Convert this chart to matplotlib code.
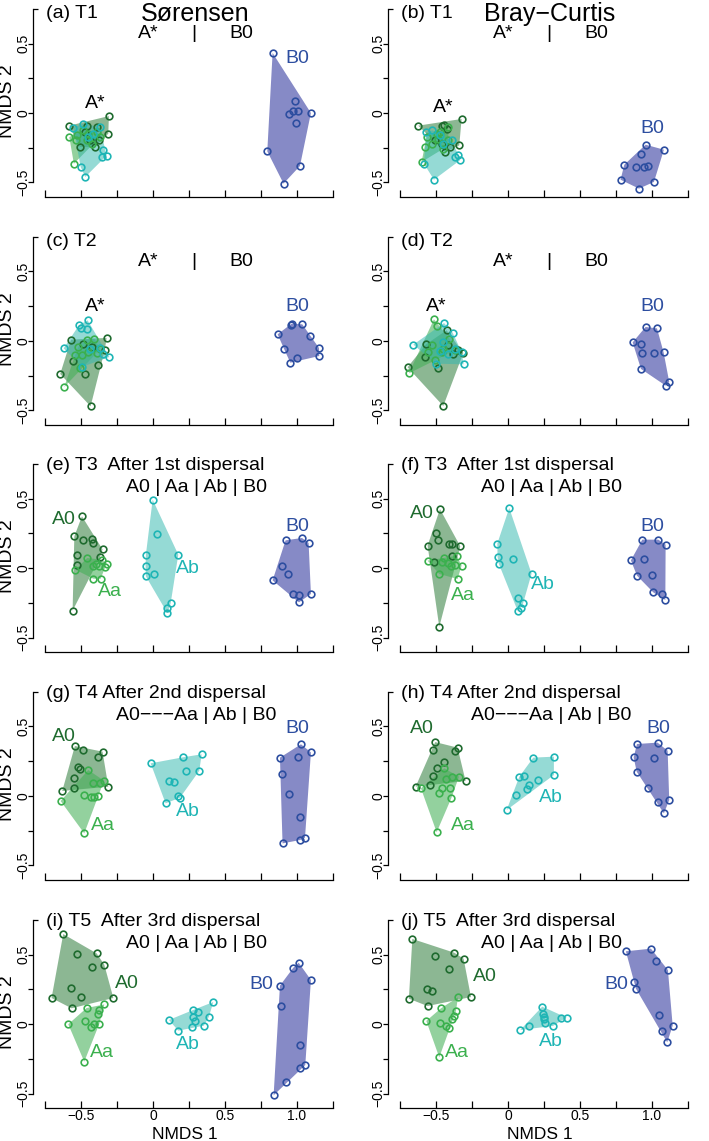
"""NMDS ordinations of the metacommunity treatments (Sorensen vs Bray-Curtis)"""
import numpy as np
import matplotlib
matplotlib.use('Agg')
import matplotlib.pyplot as plt
from matplotlib.patches import Polygon
from matplotlib.ticker import FixedLocator, FixedFormatter

plt.rcParams['font.family'] = ['Liberation Sans', 'DejaVu Sans']

# group colours: (points, hull fill)
colours = {'A0': ('#1f6b2f', '#3a8446'),
           'Aa': ('#3bb04e', '#45b058'),
           'Ab': ('#1fb5b5', '#34b8b0'),
           'B0': ('#2d4ea0', '#3c42a4')}
fill_alpha = {'A0': 0.58, 'Aa': 0.58, 'Ab': 0.52, 'B0': 0.62}

# NMDS site scores, one dict per panel
sor_T1 = {
    'A0': [(-0.581, -0.091), (-0.456, -0.096), (-0.391, -0.103), (-0.306, -0.022), (-0.310, -0.149),
           (-0.373, -0.197), (-0.437, -0.192), (-0.403, -0.245), (-0.472, -0.137), (-0.507, -0.245)],
    'Aa': [(-0.581, -0.173), (-0.535, -0.197), (-0.549, -0.365), (-0.488, -0.125), (-0.449, -0.149),
           (-0.426, -0.221), (-0.391, -0.137), (-0.368, -0.173), (-0.461, -0.197), (-0.530, -0.161)],
    'Ab': [(-0.484, -0.077), (-0.502, -0.388), (-0.470, -0.460), (-0.357, -0.317), (-0.322, -0.307),
           (-0.368, -0.101), (-0.350, -0.269), (-0.449, -0.173), (-0.414, -0.149), (-0.553, -0.105)],
    'B0': [(0.831, 0.432), (0.986, 0.084), (0.970, 0.012), (1.005, 0.012), (0.947, -0.010),
           (1.097, 0.0), (0.993, -0.070), (0.794, -0.276), (1.021, -0.381), (0.907, -0.508)],
}
bc_T1 = {
    'A0': [(-0.623, -0.091), (-0.322, -0.043), (-0.456, -0.096), (-0.442, -0.089), (-0.338, -0.233),
           (-0.437, -0.281), (-0.461, -0.221), (-0.403, -0.245), (-0.507, -0.197), (-0.426, -0.113)],
    'Aa': [(-0.565, -0.173), (-0.576, -0.245), (-0.600, -0.353), (-0.472, -0.137), (-0.414, -0.197),
           (-0.484, -0.185), (-0.449, -0.257), (-0.495, -0.149), (-0.414, -0.101), (-0.530, -0.221)],
    'Ab': [(-0.569, -0.137), (-0.525, -0.125), (-0.583, -0.365), (-0.514, -0.480), (-0.345, -0.300),
           (-0.334, -0.341), (-0.368, -0.317), (-0.472, -0.161), (-0.391, -0.197), (-0.449, -0.221)],
    'B0': [(0.956, -0.228), (1.083, -0.264), (0.924, -0.297), (0.808, -0.372), (0.889, -0.388),
           (0.942, -0.388), (0.970, -0.379), (0.782, -0.480), (1.014, -0.496), (0.910, -0.544)],
}
sor_T2 = {
    'A0': [(-0.569, 0.010), (-0.322, 0.022), (-0.644, -0.237), (-0.433, -0.470), (-0.472, -0.237),
           (-0.384, -0.170), (-0.558, -0.146), (-0.334, -0.062), (-0.426, -0.043), (-0.484, -0.019)],
    'Aa': [(-0.616, -0.331), (-0.407, 0.017), (-0.518, -0.043), (-0.495, -0.103), (-0.541, -0.103),
           (-0.507, -0.194), (-0.449, -0.079), (-0.391, -0.086), (-0.461, 0.010), (-0.368, -0.055)],
    'Ab': [(-0.620, -0.053), (-0.514, 0.113), (-0.454, 0.149), (-0.456, 0.089), (-0.502, 0.094),
           (-0.303, -0.115), (-0.368, -0.050), (-0.437, -0.055), (-0.495, -0.187), (-0.345, -0.091)],
    'B0': [(0.866, 0.048), (0.956, 0.118), (0.963, 0.125), (1.037, 0.120), (1.088, 0.038),
           (0.912, -0.060), (1.153, -0.050), (1.155, -0.108), (1.002, -0.122), (0.954, -0.156)],
}
bc_T2 = {
    'A0': [(-0.697, -0.189), (-0.449, -0.468), (-0.426, 0.077), (-0.310, -0.086), (-0.569, -0.024),
           (-0.574, -0.115), (-0.488, -0.194), (-0.380, -0.096), (-0.345, -0.067), (-0.414, -0.031)],
    'Aa': [(-0.688, -0.233), (-0.514, 0.156), (-0.495, 0.106), (-0.530, -0.031), (-0.449, -0.055),
           (-0.407, 0.017), (-0.368, -0.067), (-0.507, -0.139), (-0.461, -0.079), (-0.553, -0.079)],
    'Ab': [(-0.657, -0.026), (-0.444, 0.129), (-0.384, 0.060), (-0.308, -0.168), (-0.500, -0.163),
           (-0.368, -0.055), (-0.472, -0.074), (-0.414, -0.091), (-0.322, -0.079), (-0.449, -0.007)],
    'B0': [(0.866, -0.010), (0.924, -0.024), (0.956, 0.101), (1.035, 0.091), (0.933, -0.086),
           (1.012, -0.089), (1.081, -0.082), (0.924, -0.201), (1.120, -0.295), (1.095, -0.321)],
}
sor_T3 = {
    'A0': [(-0.493, 0.372), (-0.546, 0.228), (-0.488, 0.199), (-0.426, 0.209), (-0.419, 0.180),
           (-0.350, 0.134), (-0.525, 0.096), (-0.368, 0.077), (-0.525, 0.019), (-0.558, -0.307)],
    'Aa': [(-0.539, -0.012), (-0.456, 0.072), (-0.419, 0.012), (-0.396, 0.029), (-0.377, 0.017),
           (-0.322, 0.031), (-0.334, 0.007), (-0.414, -0.077), (-0.363, -0.077), (-0.356, 0.060)],
    'Ab': [(-0.002, 0.492), (0.025, 0.247), (-0.049, 0.096), (0.176, 0.096), (-0.051, 0.017),
           (-0.049, -0.060), (0.009, -0.043), (0.123, -0.254), (0.100, -0.288), (0.100, -0.324)],
    'B0': [(0.921, 0.199), (1.035, 0.216), (1.081, 0.180), (0.894, 0.012), (0.935, -0.041),
           (0.831, -0.089), (0.970, -0.185), (1.014, -0.192), (1.014, -0.247), (1.097, -0.187)],
}
bc_T3 = {
    'A0': [(-0.472, 0.424), (-0.502, 0.252), (-0.484, 0.204), (-0.558, 0.161), (-0.410, 0.175),
           (-0.391, 0.175), (-0.331, 0.156), (-0.387, 0.089), (-0.512, 0.046), (-0.477, -0.424)],
    'Aa': [(-0.558, 0.053), (-0.456, 0.043), (-0.419, 0.036), (-0.368, 0.024), (-0.322, 0.017),
           (-0.350, -0.079), (-0.477, -0.043), (-0.356, 0.089), (-0.396, 0.012), (-0.442, 0.072)],
    'Ab': [(0.009, 0.432), (-0.074, 0.175), (-0.072, 0.079), (-0.063, 0.029), (0.035, 0.065),
           (0.164, -0.041), (0.072, -0.216), (0.106, -0.252), (0.088, -0.288), (0.069, -0.312)],
    'B0': [(0.854, 0.055), (0.933, 0.204), (1.044, 0.204), (1.095, 0.168), (0.947, 0.067),
           (0.896, -0.055), (0.998, -0.053), (1.009, -0.175), (1.072, -0.185), (1.093, -0.230)],
}
sor_T4 = {
    'A0': [(-0.542, 0.360), (-0.484, 0.331), (-0.350, 0.319), (-0.380, 0.283), (-0.523, 0.211),
           (-0.507, 0.192), (-0.549, 0.127), (-0.549, 0.055), (-0.630, 0.036), (-0.310, 0.067)],
    'Aa': [(-0.449, 0.187), (-0.419, 0.096), (-0.368, 0.091), (-0.340, 0.110), (-0.477, 0.007),
           (-0.433, -0.005), (-0.410, -0.005), (-0.380, 0.0), (-0.641, -0.036), (-0.477, -0.269)],
    'Ab': [(-0.016, 0.235), (0.206, 0.278), (0.338, 0.300), (0.229, 0.182), (0.322, 0.182),
           (0.113, 0.110), (0.148, 0.103), (0.171, 0.0), (0.188, -0.012), (0.088, -0.053)],
    'B0': [(1.028, 0.372), (1.097, 0.314), (0.882, 0.276), (1.009, 0.278), (0.898, 0.156),
           (0.947, 0.014), (1.021, -0.149), (1.021, -0.317), (1.056, -0.300), (0.900, -0.341)],
}
bc_T4 = {
    'A0': [(-0.505, 0.388), (-0.523, 0.331), (-0.368, 0.326), (-0.350, 0.348), (-0.444, 0.245),
           (-0.495, 0.199), (-0.523, 0.146), (-0.539, 0.079), (-0.641, 0.067), (-0.294, 0.108)],
    'Aa': [(-0.442, 0.199), (-0.431, 0.120), (-0.387, 0.139), (-0.340, 0.139), (-0.604, 0.055),
           (-0.461, 0.060), (-0.405, 0.055), (-0.477, 0.019), (-0.394, -0.017), (-0.495, -0.261)],
    'Ab': [(-0.009, -0.101), (0.058, 0.007), (0.079, 0.139), (0.113, 0.144), (0.148, 0.079),
           (0.130, 0.048), (0.211, 0.115), (0.176, 0.276), (0.319, 0.283), (0.319, 0.151)],
    'B0': [(0.896, 0.374), (1.039, 0.384), (1.109, 0.326), (0.873, 0.278), (1.016, 0.271),
           (0.894, 0.175), (0.975, 0.060), (1.039, -0.041), (1.120, -0.029), (1.083, -0.125)],
}
sor_T5 = {
    'A0': [(-0.623, 0.647), (-0.525, 0.504), (-0.391, 0.508), (-0.338, 0.427), (-0.421, 0.408),
           (-0.572, 0.257), (-0.502, 0.197), (-0.704, 0.187), (-0.565, 0.113), (-0.275, 0.187)],
    'Aa': [(-0.461, 0.115), (-0.338, 0.141), (-0.373, 0.101), (-0.384, 0.070), (-0.410, 0.0),
           (-0.433, -0.024), (-0.373, 0.0), (-0.588, -0.002), (-0.475, 0.024), (-0.477, -0.271)],
    'Ab': [(0.111, 0.029), (0.176, -0.048), (0.280, 0.101), (0.310, 0.089), (0.280, 0.048),
           (0.292, 0.024), (0.268, -0.019), (0.354, -0.012), (0.389, 0.053), (0.419, 0.158)],
    'B0': [(1.012, 0.441), (0.975, 0.405), (1.097, 0.317), (0.882, 0.276), (0.889, 0.132),
           (1.023, -0.151), (1.023, -0.314), (1.058, -0.295), (0.924, -0.415), (0.838, -0.513)],
}
bc_T5 = {
    'A0': [(-0.664, 0.612), (-0.507, 0.492), (-0.373, 0.513), (-0.308, 0.470), (-0.407, 0.398),
           (-0.562, 0.252), (-0.525, 0.240), (-0.688, 0.182), (-0.558, 0.129), (-0.257, 0.194)],
    'Aa': [(-0.465, 0.113), (-0.347, 0.192), (-0.361, 0.094), (-0.373, 0.058), (-0.391, 0.034),
           (-0.433, -0.012), (-0.407, -0.031), (-0.567, 0.022), (-0.470, 0.010), (-0.477, -0.240)],
    'Ab': [(0.086, -0.043), (0.146, -0.014), (0.238, 0.125), (0.248, 0.053), (0.252, 0.034),
           (0.257, 0.010), (0.313, -0.014), (0.368, 0.046), (0.407, 0.046), (0.245, 0.070)],
    'B0': [(0.819, 0.523), (0.993, 0.542), (1.028, 0.453), (1.111, 0.388), (0.877, 0.300),
           (0.889, 0.254), (1.049, 0.065), (1.072, -0.050), (1.144, -0.012), (1.106, -0.132)],
}

# panel headers
panel_tags = ['(a) T1', '(b) T1', '(c) T2', '(d) T2',
              '(e) T3  After 1st dispersal', '(f) T3  After 1st dispersal',
              '(g) T4 After 2nd dispersal', '(h) T4 After 2nd dispersal',
              '(i) T5  After 3rd dispersal', '(j) T5  After 3rd dispersal']
clusters_row = ['A0 | Aa | Ab | B0', 'A0\u2212\u2212\u2212Aa | Ab | B0', 'A0 | Aa | Ab | B0']
column_titles = ['Sørensen', 'Bray\u2212Curtis']

# group label positions (name, x, y)
group_labels = [
    [('A*', -0.40, 0.067), ('B0', 1.0, 0.39)],
    [('A*', -0.45, 0.04), ('B0', 1.0, -0.11)],
    [('A*', -0.40, 0.245), ('B0', 1.0, 0.245)],
    [('A*', -0.50, 0.245), ('B0', 1.0, 0.245)],
    [('A0', -0.62, 0.35), ('Aa', -0.30, -0.17), ('Ab', 0.245, 0.0), ('B0', 1.0, 0.295)],
    [('A0', -0.60, 0.39), ('Aa', -0.31, -0.20), ('Ab', 0.245, -0.12), ('B0', 1.0, 0.295)],
    [('A0', -0.62, 0.43), ('Aa', -0.35, -0.21), ('Ab', 0.245, -0.11), ('B0', 1.0, 0.487)],
    [('A0', -0.60, 0.487), ('Aa', -0.31, -0.21), ('Ab', 0.30, -0.01), ('B0', 1.044, 0.487)],
    [('A0', -0.18, 0.293), ('Aa', -0.356, -0.206), ('Ab', 0.245, -0.151), ('B0', 0.75, 0.285)],
    [('A0', -0.16, 0.34), ('Aa', -0.356, -0.206), ('Ab', 0.30, -0.127), ('B0', 0.75, 0.285)],
]

panels = [sor_T1, bc_T1, sor_T2, bc_T2, sor_T3, bc_T3, sor_T4, bc_T4, sor_T5, bc_T5]


def convex_hull(pts):
    """Monotone chain convex hull"""
    pts = sorted(set(map(tuple, pts)))
    def cross(o, a, b):
        return (a[0]-o[0])*(b[1]-o[1]) - (a[1]-o[1])*(b[0]-o[0])
    lower, upper = [], []
    for p in pts:
        while len(lower) >= 2 and cross(lower[-2], lower[-1], p) <= 0:
            lower.pop()
        lower.append(p)
    for p in reversed(pts):
        while len(upper) >= 2 and cross(upper[-2], upper[-1], p) <= 0:
            upper.pop()
        upper.append(p)
    return np.array(lower[:-1] + upper[:-1])


W, H = 709., 1141.
fig = plt.figure(figsize=(W/100, H/100), dpi=100)
xlim = (-0.833, 1.299)
ylim = (-0.604, 0.777)
row_zero = [113, 341, 568, 796, 1024]
col_left = [33, 388]
yscale = 139.

for k, data in enumerate(panels):
    row, col = divmod(k, 2)
    left = col_left[col]
    top = row_zero[row] - ylim[1]*yscale
    height = (ylim[1]-ylim[0])*yscale
    width = 307
    ax = fig.add_axes([left/W, 1-(top+height)/H, width/W, height/H])
    ax.set_xlim(*xlim)
    ax.set_ylim(*ylim)
    for s in ['top', 'right']:
        ax.spines[s].set_visible(False)
    ax.spines['left'].set_bounds(-0.5, 0.75)
    ax.spines['bottom'].set_bounds(-0.75, 1.25)
    for s in ['left', 'bottom']:
        ax.spines[s].set_linewidth(0.9)
    ax.xaxis.set_major_locator(FixedLocator(np.arange(-0.75, 1.26, 0.25)))
    ax.yaxis.set_major_locator(FixedLocator([-0.5, -0.25, 0, 0.25, 0.5]))
    ax.yaxis.set_minor_locator(FixedLocator([0.75]))
    ax.yaxis.set_major_formatter(FixedFormatter(['\u22120.5', '', '0', '', '0.5']))
    if row == 4:
        ax.xaxis.set_major_formatter(FixedFormatter(['', '\u22120.5', '', '0', '', '0.5', '', '1.0', '']))
    else:
        ax.xaxis.set_major_formatter(FixedFormatter([''] * 9))
    ax.tick_params(axis='x', direction='in', length=5, width=0.9, labelsize=10, pad=1)
    ax.tick_params(axis='y', which='major', direction='out', length=3.5, width=0.9,
                   labelsize=10, pad=-1.5)
    ax.tick_params(axis='y', which='minor', direction='in', length=3.5, width=0.9)
    for lab in ax.get_yticklabels():
        lab.set_rotation(90)
        lab.set_va('center')

    # hulls first, then points on top
    for g in ['A0', 'Aa', 'Ab', 'B0']:
        pts = np.array(data[g])
        hull = convex_hull(pts)
        ax.add_patch(Polygon(hull, closed=True, facecolor=colours[g][1],
                             alpha=fill_alpha[g], edgecolor='none', zorder=1))
    for g in ['A0', 'Aa', 'Ab', 'B0']:
        pts = np.array(data[g])
        ax.plot(pts[:, 0], pts[:, 1], 'o', ms=4.8, mfc='none', mec=colours[g][0],
                mew=1.2, zorder=3)

    for name, x, y in group_labels[k]:
        c = 'black' if name == 'A*' else colours[name][0]
        ax.text(x, y, name, color=c, fontsize=14, ha='center', va='center', zorder=4)

    # headers
    ytag = 0.715 if row < 2 else 0.735
    ax.text(-0.74, ytag, panel_tags[k], fontsize=14, ha='left', va='center')
    if row < 2:
        ax.text(-0.03, 0.57, 'A*', fontsize=14, ha='center', va='center')
        ax.text(0.287, 0.57, '|', fontsize=14, ha='center', va='center')
        ax.text(0.616, 0.57, 'B0', fontsize=14, ha='center', va='center')
    else:
        ax.text(0.303, 0.58, clusters_row[row-2], fontsize=14, ha='center', va='center')
    if row == 0:
        ax.text(0.29, 0.715, column_titles[col], fontsize=18, ha='center', va='center')
    if col == 0:
        fig.text(7.5/W, 1 - (row_zero[row] - 12)/H, 'NMDS 2', fontsize=14,
                 rotation=90, ha='center', va='center')
    if row == 4:
        ax.text(0.22, -0.795, 'NMDS 1', fontsize=12.5, ha='center', va='center')

fig.savefig('out.png', dpi=100)
